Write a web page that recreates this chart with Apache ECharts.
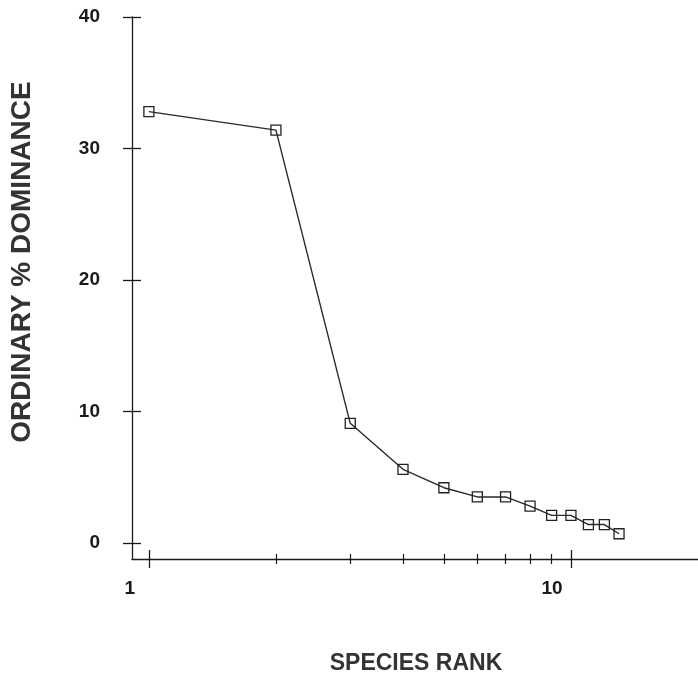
<!DOCTYPE html>
<html>
<head>
<meta charset="utf-8">
<script src="https://cdn.jsdelivr.net/npm/echarts@6/dist/echarts.min.js"></script>
<style>html,body{margin:0;padding:0;background:#fff}#c{width:698px;height:679px}</style>
</head>
<body>
<div id="c"></div>
<script>
var ranks = [1, 2, 3, 4, 5, 6, 7, 8, 9, 10, 11, 12, 13];
var dominance = [32.8, 31.4, 9.1, 5.6, 4.2, 3.5, 3.5, 2.8, 2.1, 2.1, 1.4, 1.4, 0.7];
var xMajorTicks = [1, 10];
var xMinorTicks = [2, 3, 4, 5, 6, 7, 8, 9];
var yTicks = [0, 10, 20, 30, 40];
var xTitle = 'SPECIES RANK';
var yTitle = 'ORDINARY % DOMINANCE';

var FONT = 'Liberation Sans, Arial, sans-serif';
var INK = '#1a1a1a';
var X_MIN = 0.912, X_MAX = 20, Y_MIN = -1.22, Y_MAX = 40;
var GRID = { left: 132, right: 0, top: 17, bottom: 120, containLabel: false, outerBoundsMode: 'none' };

function xAx(gi, opts) {
  var base = {
    gridIndex: gi, type: 'log', logBase: 10, min: X_MIN, max: X_MAX, position: 'bottom',
    axisLine: { show: false, onZero: false, lineStyle: { color: INK, width: 1.3 } },
    axisTick: { show: false },
    axisLabel: { show: false },
    splitLine: { show: false },
    minorTick: { show: false },
    minorSplitLine: { show: false }
  };
  return Object.assign(base, opts);
}
function yAx(gi, opts) {
  var base = {
    gridIndex: gi, type: 'value', min: Y_MIN, max: Y_MAX, position: 'left',
    axisLine: { show: false, onZero: false, lineStyle: { color: INK, width: 1.3 } },
    axisTick: { show: false },
    axisLabel: { show: false },
    splitLine: { show: false }
  };
  return Object.assign(base, opts);
}

var chart = echarts.init(document.getElementById('c'), null, { renderer: 'canvas' });
chart.setOption({
  backgroundColor: '#fff',
  animation: false,
  grid: [Object.assign({}, GRID), Object.assign({}, GRID), Object.assign({}, GRID), Object.assign({}, GRID)],
  xAxis: [
    xAx(0, {
      axisLine: { show: true, onZero: false, lineStyle: { color: INK, width: 1.3 } },
      axisTick: { show: true, inside: false, length: 9, customValues: xMajorTicks, lineStyle: { color: INK, width: 1.3 } },
      axisLabel: { show: true, customValues: xMajorTicks, margin: 20, padding: [0, 38, 0, 0],
        fontFamily: FONT, fontWeight: 'bold', fontSize: 19, color: INK }
    }),
    xAx(1, { axisTick: { show: true, inside: true, length: 9, customValues: xMajorTicks, lineStyle: { color: INK, width: 1.3 } } }),
    xAx(2, { axisTick: { show: true, inside: false, length: 5, customValues: xMinorTicks, lineStyle: { color: INK, width: 1.2 } } }),
    xAx(3, { axisTick: { show: true, inside: true, length: 5, customValues: xMinorTicks, lineStyle: { color: INK, width: 1.2 } } })
  ],
  yAxis: [
    yAx(0, {
      axisLine: { show: true, onZero: false, lineStyle: { color: INK, width: 1.3 } },
      axisTick: { show: true, inside: false, length: 9, customValues: yTicks, lineStyle: { color: INK, width: 1.3 } },
      axisLabel: { show: true, customValues: yTicks, margin: 32,
        fontFamily: FONT, fontWeight: 'bold', fontSize: 19, color: INK }
    }),
    yAx(1, { axisTick: { show: true, inside: true, length: 9, customValues: yTicks, lineStyle: { color: INK, width: 1.3 } } }),
    yAx(2, {}),
    yAx(3, {})
  ],
  graphic: [
    { type: 'text', x: 416, y: 664,
      style: { text: xTitle, align: 'center', verticalAlign: 'middle',
        font: 'bold 23px ' + FONT, fill: '#333' } },
    { type: 'text', x: 22, y: 262, rotation: Math.PI / 2,
      style: { text: yTitle, align: 'center', verticalAlign: 'middle',
        font: 'bold 28px ' + FONT, fill: '#333' } }
  ],
  series: [{
    type: 'line',
    xAxisIndex: 0, yAxisIndex: 0,
    data: ranks.map(function (r, i) { return [r, dominance[i]]; }),
    symbol: 'rect', symbolSize: 10,
    lineStyle: { color: '#2a2a2a', width: 1.4 },
    itemStyle: { color: 'rgba(0,0,0,0)', borderColor: '#222', borderWidth: 1.3 }
  }]
});
</script>
</body>
</html>
